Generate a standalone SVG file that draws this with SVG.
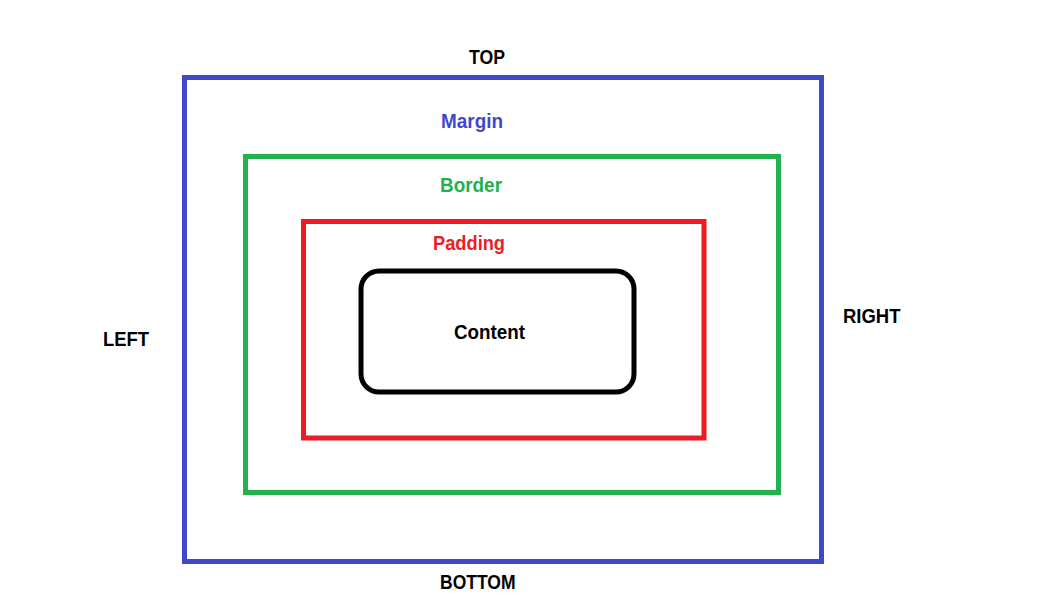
<svg xmlns="http://www.w3.org/2000/svg" width="1051" height="603" viewBox="0 0 1051 603">
<style>
.box{fill:none;stroke-width:5}
.t{font-family:"Liberation Sans",Arial,sans-serif;font-weight:bold;font-size:20px}
</style>
<rect width="1051" height="603" fill="#fff"/>
<g id="margin">
<rect class="box" x="184.5" y="77.5" width="637" height="484" stroke="#3f48cc"/>
<text class="t" x="441" y="128" fill="#3f48cc" textLength="62" lengthAdjust="spacingAndGlyphs">Margin</text>
</g>
<g id="border">
<rect class="box" x="245.5" y="156.5" width="533" height="336" stroke="#22b14c"/>
<text class="t" x="440" y="192" fill="#22b14c" textLength="62" lengthAdjust="spacingAndGlyphs">Border</text>
</g>
<g id="padding">
<rect class="box" x="303.5" y="221.5" width="400.5" height="216.5" stroke="#ed1c24"/>
<text class="t" x="433" y="250" fill="#ed1c24" textLength="72" lengthAdjust="spacingAndGlyphs">Padding</text>
</g>
<g id="content">
<rect class="box" x="361" y="271" width="273" height="121" rx="18" ry="18" stroke="#000"/>
<text class="t" x="454" y="338.5" fill="#000" textLength="71" lengthAdjust="spacingAndGlyphs">Content</text>
</g>
<g id="labels">
<text class="t" x="469" y="64" fill="#000" textLength="36" lengthAdjust="spacingAndGlyphs">TOP</text>
<text class="t" x="103" y="345.5" fill="#000" textLength="46" lengthAdjust="spacingAndGlyphs">LEFT</text>
<text class="t" x="843" y="322.5" fill="#000" textLength="57.5" lengthAdjust="spacingAndGlyphs">RIGHT</text>
<text class="t" x="440" y="589" fill="#000" textLength="75.5" lengthAdjust="spacingAndGlyphs">BOTTOM</text>
</g>
<g id="connectors"></g>
</svg>
